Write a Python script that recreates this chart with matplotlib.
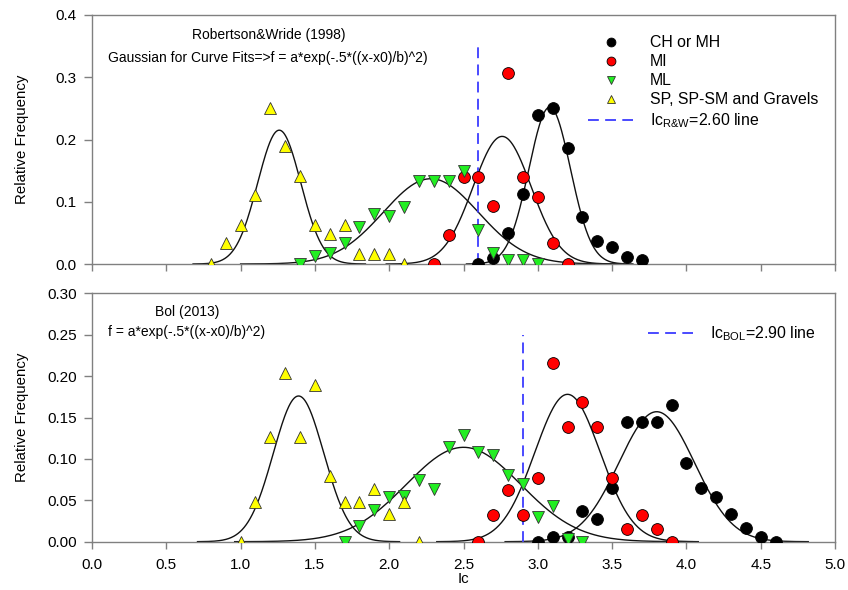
import numpy as np
import matplotlib
matplotlib.use("Agg")
import matplotlib.pyplot as plt
from matplotlib.mathtext import MathTextParser
from matplotlib.font_manager import FontProperties

plt.rcParams['font.family'] = ['Liberation Sans', 'DejaVu Sans']
plt.rcParams['mathtext.fontset'] = 'custom'
plt.rcParams['mathtext.rm'] = 'Liberation Sans'
plt.rcParams['mathtext.it'] = 'Liberation Sans'
plt.rcParams['mathtext.bf'] = 'Liberation Sans'

# ---------------- Top panel: Robertson & Wride (1998) ----------------
top_sp_x = [0.8, 0.9, 1.0, 1.1, 1.2, 1.3, 1.4, 1.5, 1.6, 1.7, 1.8, 1.9, 2.0, 2.1]
top_sp_y = [0.0, 0.033, 0.063, 0.111, 0.251, 0.189, 0.141, 0.063, 0.048, 0.063, 0.016, 0.016, 0.016, 0.0]
top_ml_x = [1.4, 1.5, 1.6, 1.7, 1.8, 1.9, 2.0, 2.1, 2.2, 2.3, 2.4, 2.5, 2.6, 2.7, 2.8, 2.9, 3.0]
top_ml_y = [0.0, 0.013, 0.017, 0.034, 0.060, 0.081, 0.077, 0.091, 0.133, 0.133, 0.133, 0.150, 0.055, 0.018, 0.006, 0.006, 0.0]
top_mi_x = [2.3, 2.4, 2.5, 2.6, 2.7, 2.8, 2.9, 3.0, 3.1, 3.2]
top_mi_y = [0.0, 0.047, 0.139, 0.139, 0.093, 0.307, 0.139, 0.108, 0.033, 0.0]
top_ch_x = [2.6, 2.7, 2.8, 2.9, 3.0, 3.1, 3.2, 3.3, 3.4, 3.5, 3.6, 3.7]
top_ch_y = [0.0, 0.010, 0.049, 0.112, 0.240, 0.251, 0.186, 0.075, 0.037, 0.027, 0.011, 0.006]
# Gaussian fit parameters (a, x0, b)
top_fit_sp = (0.215, 1.26, 0.145)
top_fit_ml = (0.137, 2.28, 0.32)
top_fit_mi = (0.205, 2.76, 0.195)
top_fit_ch = (0.252, 3.08, 0.14)
top_ic = 2.60
top_ic_top = 0.353

# ---------------- Bottom panel: Bol (2013) ----------------
bot_sp_x = [1.0, 1.1, 1.2, 1.3, 1.4, 1.5, 1.6, 1.7, 1.8, 1.9, 2.0, 2.1, 2.2]
bot_sp_y = [0.0, 0.048, 0.126, 0.204, 0.126, 0.189, 0.079, 0.048, 0.048, 0.064, 0.033, 0.048, 0.0]
bot_ml_x = [1.7, 1.8, 1.9, 2.0, 2.1, 2.2, 2.3, 2.4, 2.5, 2.6, 2.7, 2.8, 2.9, 3.0, 3.1, 3.2, 3.3]
bot_ml_y = [0.0, 0.019, 0.038, 0.054, 0.055, 0.074, 0.064, 0.114, 0.129, 0.108, 0.105, 0.081, 0.070, 0.030, 0.043, 0.003, 0.0]
bot_mi_x = [2.6, 2.7, 2.8, 2.9, 3.0, 3.1, 3.2, 3.3, 3.4, 3.5, 3.6, 3.7, 3.8, 3.9]
bot_mi_y = [0.0, 0.032, 0.062, 0.032, 0.077, 0.216, 0.138, 0.169, 0.138, 0.077, 0.015, 0.032, 0.015, 0.0]
bot_ch_x = [3.0, 3.1, 3.2, 3.3, 3.4, 3.5, 3.6, 3.7, 3.8, 3.9, 4.0, 4.1, 4.2, 4.3, 4.4, 4.5, 4.6]
bot_ch_y = [0.0, 0.006, 0.006, 0.037, 0.027, 0.065, 0.144, 0.144, 0.144, 0.165, 0.095, 0.065, 0.054, 0.033, 0.016, 0.006, 0.0]
bot_fit_sp = (0.176, 1.39, 0.17)
bot_fit_ml = (0.114, 2.50, 0.385)
bot_fit_mi = (0.178, 3.20, 0.22)
bot_fit_ch = (0.157, 3.80, 0.255)
bot_ic = 2.90
bot_ic_top = 0.25

labels = ['CH or MH', 'MI', 'ML', 'SP, SP-SM and Gravels']
x_ticks = [0.0, 0.5, 1.0, 1.5, 2.0, 2.5, 3.0, 3.5, 4.0, 4.5, 5.0]
top_yticks = [0.0, 0.1, 0.2, 0.3, 0.4]
bot_yticks = [0.00, 0.05, 0.10, 0.15, 0.20, 0.25, 0.30]

GREEN = '#22ee22'
RED = '#ff0000'
YELLOW = '#ffff00'
BLUE = '#3b3bff'
SPINE = '#808080'


def safe_label(math_label, plain_label):
    try:
        MathTextParser('agg').parse(math_label, 72, FontProperties(size=10))
        return math_label
    except Exception:
        return plain_label


rw_label = safe_label(r'Ic$_{R&W}$=2.60 line', 'IcR&W=2.60 line')
bol_label = safe_label(r'Ic$_{BOL}$=2.90 line', 'IcBOL=2.90 line')


def gauss(x, p):
    a, x0, b = p
    return a * np.exp(-0.5 * ((x - x0) / b) ** 2)


def style(ax, yticks, fmt):
    for s in ax.spines.values():
        s.set_color(SPINE)
        s.set_linewidth(1.0)
    ax.set_xlim(0, 5)
    ax.set_xticks(x_ticks)
    ax.set_yticks(yticks)
    ax.set_ylim(yticks[0], yticks[-1])
    ax.yaxis.set_major_formatter(plt.FormatStrFormatter(fmt))
    ax.xaxis.set_major_formatter(plt.FormatStrFormatter('%.1f'))
    ax.tick_params(direction='out', width=1, color=SPINE, labelsize=11)
    ax.tick_params(axis='x', length=5, pad=7)
    ax.tick_params(axis='y', length=6, pad=5)
    ax.set_ylabel('Relative Frequency', fontsize=10.8)
    ax.yaxis.label.set_verticalalignment('center')
    ax.yaxis.set_label_coords(-0.094, 0.5)


def panel(ax, ch, mi, ml, sp, fits, ic, ic_top):
    for p in fits:
        lo = p[1] - 4.0 * p[2]
        hi = p[1] + 4.0 * p[2]
        xx = np.linspace(lo, hi, 300)
        ax.plot(xx, gauss(xx, p), color='#111111', lw=1.0, zorder=2)
    ms = 8.5
    h_ch, = ax.plot(ch[0], ch[1], 'o', ms=ms, mfc='black', mec='black', mew=0.6, ls='none', zorder=3)
    h_mi, = ax.plot(mi[0], mi[1], 'o', ms=ms, mfc=RED, mec='black', mew=0.6, ls='none', zorder=3)
    h_ml, = ax.plot(ml[0], ml[1], 'v', ms=ms, mfc=GREEN, mec='#333333', mew=0.6, ls='none', zorder=3)
    h_sp, = ax.plot(sp[0], sp[1], '^', ms=ms, mfc=YELLOW, mec='#333333', mew=0.6, ls='none', zorder=3)
    h_ic, = ax.plot([ic, ic], [0, ic_top], color=BLUE, lw=1.3, dashes=(6, 3.5), zorder=2)
    return h_ch, h_mi, h_ml, h_sp, h_ic


fig = plt.figure(figsize=(8.48, 5.90), dpi=100)
ax1 = fig.add_axes([92 / 848, 1 - 264 / 590, (835 - 92) / 848, (264 - 15) / 590])
ax2 = fig.add_axes([92 / 848, 1 - 541.7 / 590, (835 - 92) / 848, (541.7 - 293.3) / 590])

style(ax1, top_yticks, '%.1f')
style(ax2, bot_yticks, '%.2f')
ax1.tick_params(labelbottom=False)
ax2.set_xlabel('Ic', fontsize=10.8, labelpad=0)

hs = panel(ax1, (top_ch_x, top_ch_y), (top_mi_x, top_mi_y), (top_ml_x, top_ml_y),
           (top_sp_x, top_sp_y), [top_fit_sp, top_fit_ml, top_fit_mi, top_fit_ch], top_ic, top_ic_top)
hb = panel(ax2, (bot_ch_x, bot_ch_y), (bot_mi_x, bot_mi_y), (bot_ml_x, bot_ml_y),
           (bot_sp_x, bot_sp_y), [bot_fit_sp, bot_fit_ml, bot_fit_mi, bot_fit_ch], bot_ic, bot_ic_top)

ax1.text(0.1346, 0.9197, 'Robertson&Wride (1998)', transform=ax1.transAxes, fontsize=10, ha='left', va='center')
ax1.text(0.0215, 0.827, 'Gaussian for Curve Fits=>f = a*exp(-.5*((x-x0)/b)^2)', transform=ax1.transAxes,
         fontsize=10, ha='left', va='center')
ax2.text(0.0848, 0.9247, 'Bol (2013)', transform=ax2.transAxes, fontsize=10, ha='left', va='center')
ax2.text(0.0215, 0.844, 'f = a*exp(-.5*((x-x0)/b)^2)', transform=ax2.transAxes, fontsize=10, ha='left', va='center')

leg1 = ax1.legend(list(hs), labels + [rw_label], loc='upper left',
                  bbox_to_anchor=(0.6676, 0.918), frameon=False, fontsize=11.4, handlelength=2.85,
                  handletextpad=1.05, labelspacing=0.25, borderaxespad=0.0, borderpad=0.0,
                  markerscale=0.75)
leg2 = ax2.legend([hb[4]], [bol_label], loc='upper left',
                  bbox_to_anchor=(0.748, 0.875), frameon=False, fontsize=11.4, handlelength=2.85,
                  handletextpad=1.05, borderaxespad=0.0, borderpad=0.0)

fig.savefig('out.png', dpi=100)
